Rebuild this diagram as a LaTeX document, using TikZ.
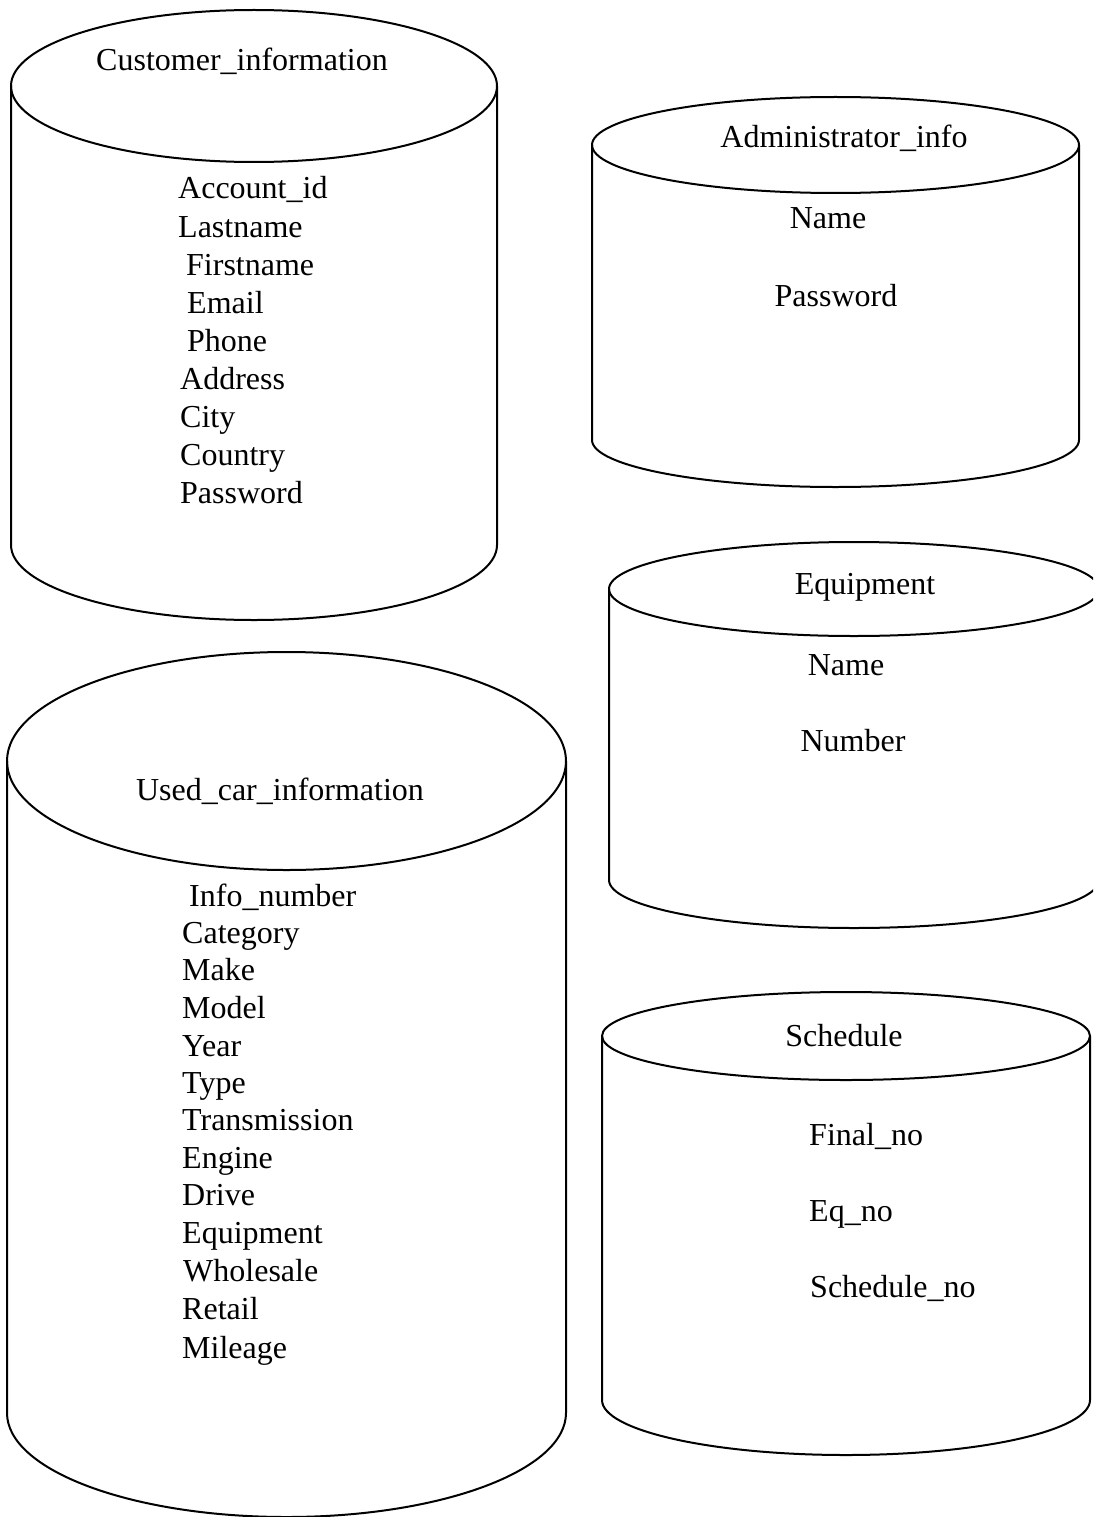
\documentclass[tikz,border=0pt]{standalone}
\usepackage{fontspec}
\setmainfont{Liberation Serif}
\newcommand\dbcylinder[6]{%
  % #1 cx, #2 rx, #3 top cy, #4 top ry, #5 bottom cy, #6 bottom ry
  \draw[cyl] ({#1},{-#3}) ellipse [x radius=#2pt, y radius=#4pt];
  \draw[cyl] ({#1-#2},{-#3}) -- ({#1-#2},{-#5})
     arc [start angle=180, end angle=360, x radius=#2pt, y radius=#6pt]
     -- ({#1+#2},{-#3});
}
\tikzset{
  cyl/.style={line width=2pt, line join=round},
  txt/.style={font=\fontsize{32}{38}\selectfont, inner sep=0pt},
  fld/.style={txt, anchor=base west},
  ttl/.style={txt, anchor=base},
}
\begin{document}
\begin{tikzpicture}[x=1pt,y=1pt]
\useasboundingbox (0,0) rectangle (1093,-1517);
\fill[white] (0,0) rectangle (1093,-1517);
\clip (0,0) rectangle (1093,-1517);

% Customer_information
\dbcylinder{254}{243}{86}{76}{545}{75}
\node[ttl] (c1t) at (242,-71) {Customer\_information};
\node[fld] (c1a) at (178,-199) {Account\_id};
\node[fld] (c1b) at (178,-237) {Lastname};
\node[fld] (c1c) at (186,-275) {Firstname};
\node[fld] (c1d) at (187,-313) {Email};
\node[fld] (c1e) at (187,-351) {Phone};
\node[fld] (c1f) at (180,-389) {Address};
\node[fld] (c1g) at (180,-427) {City};
\node[fld] (c1h) at (180,-465) {Country};
\node[fld] (c1i) at (180,-503) {Password};

% Administrator_info
\dbcylinder{835.5}{243.5}{145}{48}{440}{47}
\node[ttl] (c2t) at (844,-148) {Administrator\_info};
\node[ttl] (c2a) at (828,-229) {Name};
\node[ttl] (c2b) at (836,-306) {Password};

% Equipment
\dbcylinder{854}{245}{589}{47}{880}{48}
\node[ttl] (c3t) at (865,-594) {Equipment};
\node[ttl] (c3a) at (846,-675) {Name};
\node[ttl] (c3b) at (853,-751) {Number};

% Used_car_information
\dbcylinder{286.5}{279.5}{761}{109}{1413}{104}
\node[ttl] (c4t) at (280,-800) {Used\_car\_information};
\node[fld] (c4a) at (189,-906) {Info\_number};
\node[fld] (c4b) at (182,-943) {Category};
\node[fld] (c4c) at (182,-980) {Make};
\node[fld] (c4d) at (182,-1018) {Model};
\node[fld] (c4e) at (182,-1056) {Year};
\node[fld] (c4f) at (182,-1093) {Type};
\node[fld] (c4g) at (182,-1130) {Transmission};
\node[fld] (c4h) at (182,-1168) {Engine};
\node[fld] (c4i) at (182,-1205) {Drive};
\node[fld] (c4j) at (182,-1243) {Equipment};
\node[fld] (c4k) at (183,-1281) {Wholesale};
\node[fld] (c4l) at (182,-1319) {Retail};
\node[fld] (c4m) at (182,-1358) {Mileage};

% Schedule
\dbcylinder{846}{244}{1036}{44}{1400}{55}
\node[ttl] (c5t) at (844,-1046) {Schedule};
\node[fld] (c5a) at (809,-1145) {Final\_no};
\node[fld] (c5b) at (809,-1221) {Eq\_no};
\node[fld] (c5c) at (810,-1297) {Schedule\_no};
\end{tikzpicture}
\end{document}
